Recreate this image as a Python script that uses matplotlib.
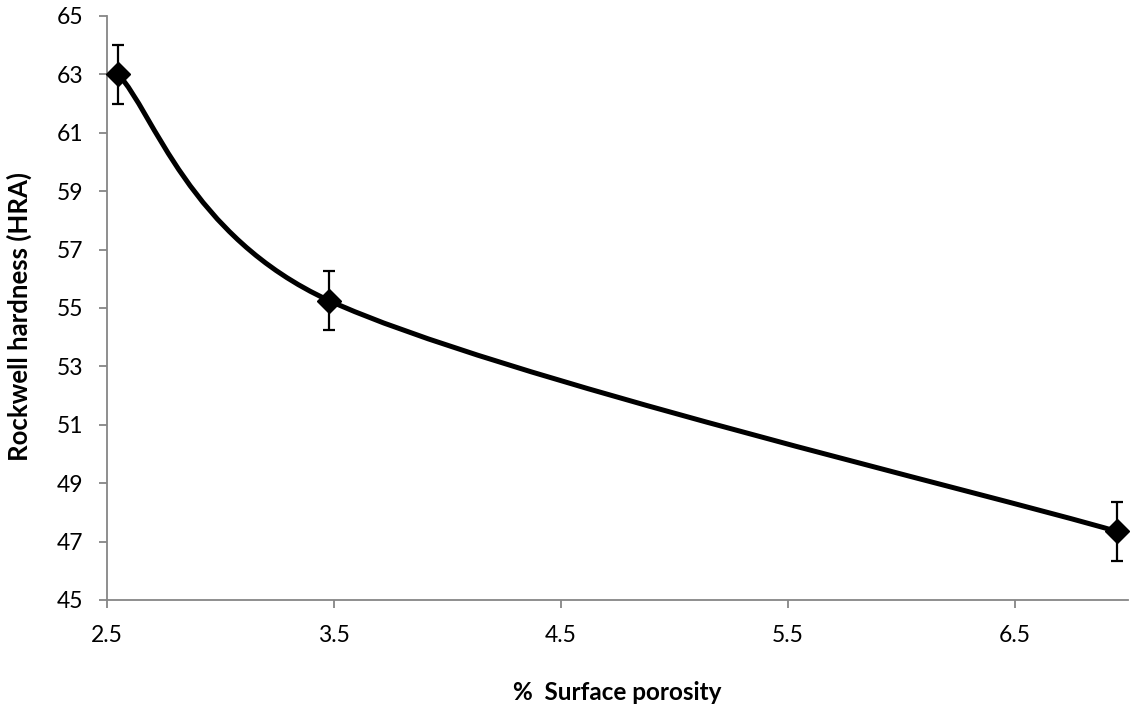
import numpy as np
import matplotlib
matplotlib.use("Agg")
import matplotlib.pyplot as plt
from matplotlib.path import Path
from matplotlib.patches import PathPatch

plt.rcParams['font.family'] = ['Lato', 'DejaVu Sans']

# Measured data
porosity = [2.55, 3.48, 6.95]
hardness = [63.0, 55.25, 47.35]
hardness_err = [1.0, 1.0, 1.0]

x_ticks = [2.5, 3.5, 4.5, 5.5, 6.5]
y_ticks = [45, 47, 49, 51, 53, 55, 57, 59, 61, 63, 65]

AXIS_GREY = '#868686'

fig = plt.figure(figsize=(11.33, 7.12), dpi=100)
ax = fig.add_axes([107 / 1133, 1 - 600 / 712, (1128 - 107) / 1133, (600 - 16) / 712])
ax.set_xlim(2.5, 7.0)
ax.set_ylim(45, 65)


def smooth_path(xs, ys, tension=1.0 / 6.0):
    """Bezier spline through the points, built in screen space with each
    tangent limited to half of its segment length."""
    to_px = ax.transData
    pts = to_px.transform(np.column_stack([xs, ys]))
    n = len(pts)
    verts = [pts[0]]
    codes = [Path.MOVETO]
    for i in range(n - 1):
        p0 = pts[i - 1] if i > 0 else pts[i]
        p1 = pts[i]
        p2 = pts[i + 1]
        p3 = pts[i + 2] if i + 2 < n else pts[i + 1]
        seg = np.linalg.norm(p2 - p1)
        t1 = tension * (p2 - p0)
        t2 = tension * (p3 - p1)
        for t in (t1, t2):
            ln = np.linalg.norm(t)
            if ln > seg / 2:
                t *= (seg / 2) / ln
        verts += [p1 + t1, p2 - t2, p2]
        codes += [Path.CURVE4] * 3
    verts = to_px.inverted().transform(np.array(verts))
    return Path(verts, codes)


curve = PathPatch(smooth_path(porosity, hardness), facecolor='none',
                  edgecolor='black', linewidth=3.6, capstyle='round',
                  joinstyle='round', zorder=3)
ax.add_patch(curve)

ax.errorbar(porosity, hardness, yerr=hardness_err, fmt='D', color='black',
            markersize=12, ecolor='black', elinewidth=1.6, capsize=4.6,
            capthick=1.6, zorder=4, clip_on=False)

ax.set_xticks(x_ticks)
ax.set_xticklabels([f"{v:.1f}" for v in x_ticks])
ax.set_yticks(y_ticks)
ax.set_yticklabels([str(v) for v in y_ticks])

for side in ('top', 'right'):
    ax.spines[side].set_visible(False)
for side in ('left', 'bottom'):
    ax.spines[side].set_color(AXIS_GREY)
    ax.spines[side].set_linewidth(1.3)

ax.tick_params(axis='both', which='major', direction='out', color=AXIS_GREY,
               width=1.3, length=6, labelsize=16.5, labelcolor='black')
ax.tick_params(axis='y', pad=11)
ax.tick_params(axis='x', pad=12)

ax.set_xlabel('%  Surface porosity', fontsize=17.5, fontweight='bold')
ax.xaxis.set_label_coords(0.5, -81 / 584, transform=ax.transAxes)
ax.set_ylabel('Rockwell hardness (HRA)', fontsize=18.5, fontweight='bold')
ax.yaxis.set_label_coords(-75 / 1021, 0.486, transform=ax.transAxes)

fig.savefig('out.png', dpi=100)
